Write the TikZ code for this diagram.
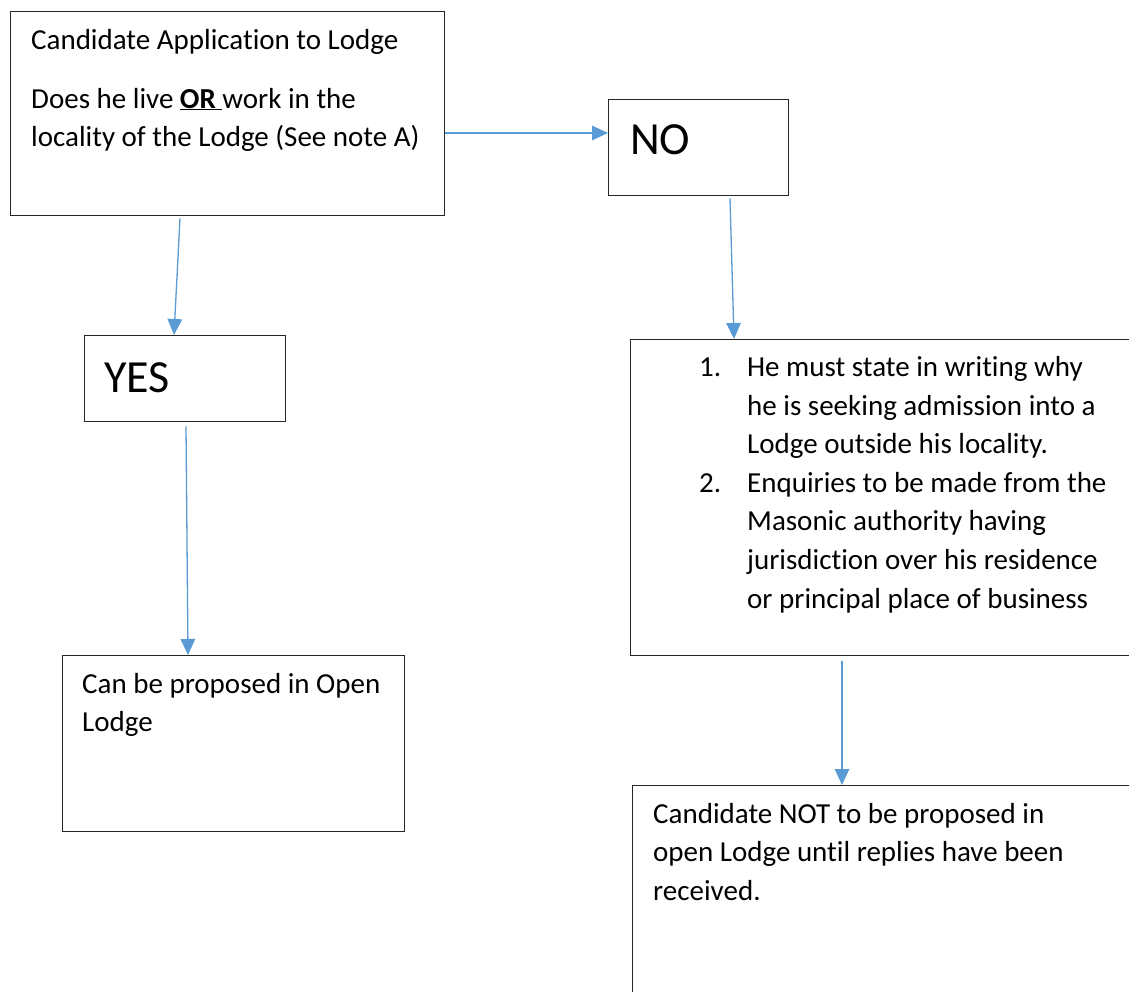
\documentclass[tikz,border=0pt]{standalone}
\usepackage{fontspec}
\setmainfont[Ligatures=NoCommon]{Carlito}
\usetikzlibrary{arrows.meta}
\definecolor{arrowblue}{HTML}{5B9BD5}
\newcommand\txtlines[1]{\vtop{\baselineskip=38.6pt\lineskiplimit=-100pt\lineskip=0pt #1}}
\tikzset{
  flowbox/.style={draw=black!85, line width=1.3pt, fill=white, inner sep=0pt, anchor=north west},
  bodytext/.style={inner sep=0pt, anchor=base west, font=\fontsize{29}{38.6}\selectfont},
  bigtext/.style={inner sep=0pt, anchor=base west, font=\fontsize{46}{55}\selectfont},
  flowarrow/.style={draw=arrowblue, line width=1.3pt, -{Triangle[length=16pt,width=14.5pt]}, shorten >=0pt}
}
\begin{document}
\begin{tikzpicture}[x=1pt,y=-1pt]
\useasboundingbox (0,0) rectangle (1129,992);
\clip (0,0) rectangle (1129,992);
\fill[white] (0,0) rectangle (1129,992);

% boxes
\node[flowbox, minimum width=434pt, minimum height=204pt] (b1) at (10,11) {};
\node[flowbox, minimum width=180pt, minimum height=96pt] (no) at (608,99) {};
\node[flowbox, minimum width=201pt, minimum height=86pt] (yes) at (84,335) {};
\node[flowbox, minimum width=540pt, minimum height=316pt] (b3) at (630,339) {};
\node[flowbox, minimum width=342pt, minimum height=176pt] (b4) at (62,655) {};
\node[flowbox, minimum width=540pt, minimum height=260pt] (b5) at (632,785) {};

% texts
\node[bodytext] (t1) at ([xshift=21pt,yshift=-39pt]b1.north west)
  {\txtlines{\hbox{Candidate Application to Lodge}\vskip 19.5pt
   \hbox{Does he live \underline{\textbf{OR}\ }work in the}
   \hbox{locality of the Lodge (See note A)}}};
\node[bigtext] (tno) at ([xshift=22pt,yshift=-56pt]no.north west) {NO};
\node[bigtext] (tyes) at ([xshift=20pt,yshift=-57pt]yes.north west) {YES};
\node[bodytext] (t3) at ([xshift=69pt,yshift=-37.5pt]b3.north west)
  {\txtlines{\hbox{\makebox[48pt][l]{1.}He must state in writing why}
   \hbox{\hspace*{48pt}he is seeking admission into a}
   \hbox{\hspace*{48pt}Lodge outside his locality.}
   \hbox{\makebox[48pt][l]{2.}Enquiries to be made from the}
   \hbox{\hspace*{48pt}Masonic authority having}
   \hbox{\hspace*{48pt}jurisdiction over his residence}
   \hbox{\hspace*{48pt}or principal place of business}}};
\node[bodytext] (t4) at ([xshift=20pt,yshift=-38pt]b4.north west)
  {\txtlines{\hbox{Can be proposed in Open}\hbox{Lodge}}};
\node[bodytext] (t5) at ([xshift=21pt,yshift=-38pt]b5.north west)
  {\txtlines{\hbox{Candidate NOT to be proposed in}
   \hbox{open Lodge until replies have been}
   \hbox{received.}}};

% connectors
\draw[flowarrow] ([xshift=170pt,yshift=-2pt]b1.south west) -- ([xshift=90pt]yes.north west);
\draw[flowarrow] ([xshift=102pt,yshift=-4pt]yes.south west) -- ([xshift=126pt]b4.north west);
\draw[flowarrow] ([yshift=-122pt]b1.north east) -- ([yshift=-34pt]no.north west);
\draw[flowarrow] ([xshift=122pt,yshift=-2pt]no.south west) -- ([xshift=104pt]b3.north west);
\draw[flowarrow] ([xshift=212pt,yshift=-5pt]b3.south west) -- ([xshift=210pt]b5.north west);
\end{tikzpicture}
\end{document}
